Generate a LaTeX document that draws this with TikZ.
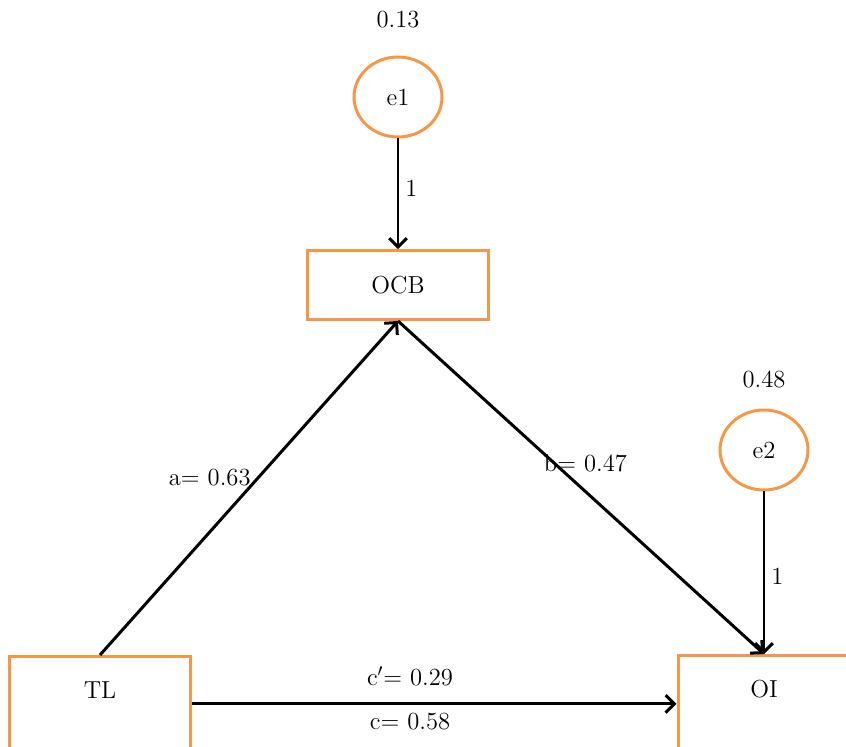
\documentclass[tikz,border=0pt]{standalone}
\usetikzlibrary{shapes.geometric,positioning,arrows.meta}
\definecolor{boxorange}{RGB}{247,150,70}
\tikzset{
  var/.style={draw=boxorange, line width=1.7pt, minimum width=3.62cm, minimum height=1.38cm, font=\fontsize{14}{16}\selectfont},
  openvar/.style={var, anchor=north, minimum height=0pt, text height=9pt, text depth=60pt, inner ysep=15pt},
  err/.style={ellipse, draw=boxorange, line width=1.7pt, minimum width=1.76cm, minimum height=1.6cm, inner sep=0pt, font=\fontsize{14}{16}\selectfont},
  path/.style={-{Straight Barb[length=5pt,width=10pt,line width=1.7pt]}, line width=1.7pt},
  coef/.style={font=\fontsize{14}{16}\selectfont}
}
\begin{document}
\begin{tikzpicture}[x=0.02cm,y=-0.02cm]
\useasboundingbox (0,0) rectangle (846,747);
\clip (0,0) rectangle (846,747);
\node[var] (ocb) at (398,285) {OCB};
\node[openvar] (tl) at (100,655) {TL};
\node[openvar, minimum width=3.44cm] (oi) at (764,654) {OI};
\node[err] (e1) at (398,97) {e1};
\node[err] (e2) at (764,450) {e2};
\node[coef, above=12pt of e1] (v1) {0.13};
\node[coef, above=8pt of e2] (v2) {0.48};
\draw[path] (e1) -- (ocb) node[coef, right, pos=0.45] (l1) {1};
\draw[path] (e2) -- (oi.north) node[coef, right, pos=0.52] (l2) {1};
\draw[path] (tl.north) -- (ocb.south) node[coef, pos=0.53, anchor=east] (la) {a= 0.63};
\draw[path] (ocb.south) -- (oi.north) node[coef, pos=0.39, anchor=north west, inner sep=1pt] (lb) {b= 0.47};
\draw[path] ([yshift=-3pt]tl.base east) -- ([yshift=-3pt]tl.base east -| oi.west)
  node[coef, pos=0.45, above=6pt] (lc1) {c$'$= 0.29}
  node[coef, pos=0.45, below=1pt] (lc) {c= 0.58};
\end{tikzpicture}
\end{document}
